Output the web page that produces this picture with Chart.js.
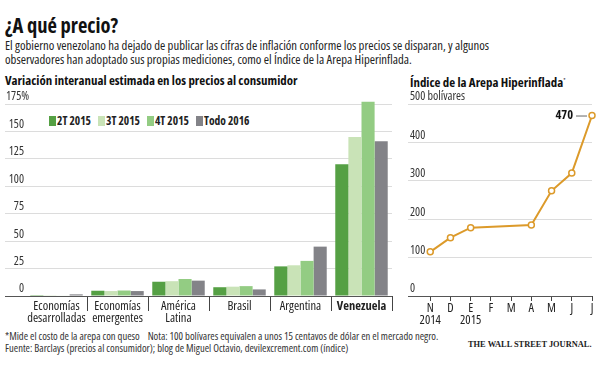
<!DOCTYPE html>
<html>
<head>
<meta charset="utf-8">
<script src="https://cdn.jsdelivr.net/npm/chart.js@4/dist/chart.umd.min.js"></script>
<style>
  body { margin: 0; background: #fff; font-family: "Open Sans", sans-serif; font-stretch: 75%; color: #222; }
  #page { position: relative; width: 600px; height: 370px; overflow: hidden; }
  .abs { position: absolute; white-space: nowrap; }
  #title { left: 5px; top: 13px; font-size: 20.5px; line-height: 24px; font-weight: bold; color: #111; }
  #sub { left: 5px; top: 39px; font-size: 12.7px; line-height: 13.5px; color: #222; }
  .head { top: 72px; font-size: 12.9px; line-height: 16px; font-weight: bold; color: #111; }
  #legend { left: 49px; top: 114px; display: flex; font-size: 11.5px; line-height: 14px; font-weight: bold; color: #222; }
  #legend span.item { display: flex; align-items: center; margin-right: 7px; }
  #legend span.box { width: 7px; height: 10px; margin-right: 1px; }
  #foot { left: 5px; top: 331px; font-size: 10.6px; line-height: 11.5px; color: #333; }
  #wsj { left: 468px; top: 340px; font-family: "Liberation Serif", serif; font-stretch: normal; font-weight: bold; font-size: 8.4px; color: #222; }
  canvas { position: absolute; }
</style>
</head>
<body>
<div id="page">
  <div id="title" class="abs">¿A qué precio?</div>
  <div id="sub" class="abs">El gobierno venezolano ha dejado de publicar las cifras de inflación conforme los precios se disparan, y algunos<br>observadores han adoptado sus propias mediciones, como el Índice de la Arepa Hiperinflada.</div>
  <div class="abs head" style="left:5px">Variación interanual estimada en los precios al consumidor</div>
  <div class="abs head" style="left:410px">Índice de la Arepa Hiperinflada<sup style="font-size:6px;font-weight:normal">*</sup></div>
  <div id="legend" class="abs"></div>
  <div style="position:absolute;left:0;top:88px;width:395px;height:240px"><canvas id="cpiChart"></canvas></div>
  <div style="position:absolute;left:395px;top:88px;width:205px;height:240px"><canvas id="arepaChart"></canvas></div>
  <div id="foot" class="abs">*Mide el costo de la arepa con queso&nbsp;&nbsp;&nbsp; Nota: 100 bolívares equivalen a unos 15 centavos de dólar en el mercado negro.<br>Fuente: Barclays (precios al consumidor); blog de Miguel Octavio, devilexcrement.com (índice)</div>
  <div id="wsj" class="abs">THE WALL STREET JOURNAL.</div>
</div>
<script>
const regions = [['Economías', 'desarrolladas'], ['Economías', 'emergentes'], ['América', 'Latina'], 'Brasil', 'Argentina', 'Venezuela'];
const q2_2015 = [0.1, 4.8, 13, 8, 27, 120];
const q3_2015 = [0.2, 4.5, 13.5, 8.5, 28, 145];
const q4_2015 = [0.5, 5, 15.5, 9, 32, 177];
const all_2016 = [1.5, 4.5, 14, 6, 45, 141];
const seriesNames = ['2T 2015', '3T 2015', '4T 2015', 'Todo 2016'];
const seriesColors = ['#55a044', '#c9e3b7', '#93cc83', '#838388'];
const cpiTicks = [0, 25, 50, 75, 100, 125, 150, 175];

const months = ['N', 'D', 'E', 'F', 'M', 'A', 'M', 'J', 'J'];
const years = ['2014', '', '2015', '', '', '', '', '', ''];
const arepa = [115, 152, 178, null, null, 185, 274, 320, 470];
const arepaTicks = [0, 100, 200, 300, 400, 500];

// Chart.js puts weight before the size, so the stretch can ride along with it
const FONT = '"Open Sans", sans-serif';
const NARROW = 'condensed';
const NARROW_BOLD = 'bold condensed';

// legend
const legend = document.getElementById('legend');
seriesNames.forEach(function (name, i) {
    const item = document.createElement('span');
    item.className = 'item';
    item.innerHTML = '<span class="box" style="background:' + seriesColors[i] + '"></span>' + name;
    legend.appendChild(item);
});

const cpiChart = new Chart(document.getElementById('cpiChart'), {
    type: 'bar',
    data: {
        labels: regions,
        datasets: [q2_2015, q3_2015, q4_2015, all_2016].map(function (d, i) {
            return {
                label: seriesNames[i],
                data: d,
                backgroundColor: seriesColors[i],
                categoryPercentage: 0.86,
                barPercentage: 1.0,
                clip: false
            };
        })
    },
    options: {
        responsive: true,
        maintainAspectRatio: false,
        animation: false,
        layout: { padding: { left: 5, right: 3, top: 16, bottom: 0 } },
        plugins: { legend: { display: false }, tooltip: { enabled: false } },
        scales: {
            x: {
                border: { display: false },
                grid: {
                    offset: true,
                    drawOnChartArea: false,
                    tickLength: 15,
                    color: function (ctx) {
                        return (ctx.index === 0 || ctx.index === regions.length) ? 'rgba(0,0,0,0)' : '#444';
                    }
                },
                ticks: {
                    padding: -11,
                    autoSkip: false,
                    maxRotation: 0,
                    minRotation: 0,
                    color: '#222',
                    font: function (ctx) {
                        return { family: FONT, size: 12.5, weight: ctx.index === regions.length - 1 ? NARROW_BOLD : NARROW, lineHeight: 1.0 };
                    }
                },
                afterFit: function (s) { s.height = 32; }
            },
            y: {
                min: 0,
                max: 175,
                border: { display: false },
                grid: {
                    tickLength: 21,
                    color: function (ctx) { return ctx.tick && ctx.tick.value === 0 ? '#555' : '#dcdcdc'; }
                },
                afterBuildTicks: function (s) { s.ticks = cpiTicks.map(function (v) { return { value: v }; }); },
                ticks: {
                    // mirrored so the labels are not clipped to the narrow axis box
                    mirror: true,
                    crossAlign: 'far',
                    padding: -20,
                    labelOffset: -7,
                    color: '#333',
                    font: { family: FONT, size: 12, weight: NARROW },
                    // the % hangs past the numbers, a figure space keeps the digits lined up
                    callback: function (v) { return v === cpiTicks[cpiTicks.length - 1] ? v + '%' : v + '\u2007'; }
                },
                afterFit: function (s) { s.width = 21; }
            }
        }
    }
});

const lastLabel = {
    id: 'lastLabel',
    afterDatasetsDraw: function (chart) {
        const meta = chart.getDatasetMeta(0);
        const pt = meta.data[meta.data.length - 1];
        const ctx = chart.ctx;
        ctx.save();
        ctx.fillStyle = '#111';
        ctx.font = 'bold condensed 12.5px ' + FONT;
        ctx.textAlign = 'right';
        ctx.textBaseline = 'middle';
        ctx.fillText(String(arepa[arepa.length - 1]), pt.x - 19, pt.y);
        ctx.strokeStyle = '#666';
        ctx.lineWidth = 1;
        ctx.beginPath();
        ctx.moveTo(pt.x - 16, pt.y + 0.5);
        ctx.lineTo(pt.x - 5, pt.y + 0.5);
        ctx.stroke();
        ctx.restore();
    }
};

const arepaChart = new Chart(document.getElementById('arepaChart'), {
    type: 'line',
    data: {
        datasets: [{
            label: 'Índice de la Arepa Hiperinflada',
            data: arepa.map(function (v, i) { return { x: i, y: v }; }),
            borderColor: '#dc9a2a',
            borderWidth: 2,
            pointRadius: 3,
            pointBorderWidth: 1.5,
            pointBackgroundColor: '#fff',
            pointBorderColor: '#dc9a2a',
            spanGaps: true,
            tension: 0,
            clip: false
        }]
    },
    options: {
        responsive: true,
        maintainAspectRatio: false,
        animation: false,
        layout: { padding: { left: 13, right: 8, top: 16, bottom: 0 } },
        plugins: { legend: { display: false }, tooltip: { enabled: false } },
        scales: {
            x: {
                type: 'linear',
                min: -1.1,
                max: 8,
                border: { display: false },
                grid: { drawOnChartArea: false, tickLength: 5, color: '#444' },
                afterBuildTicks: function (s) { s.ticks = months.map(function (m, i) { return { value: i }; }); },
                ticks: {
                    padding: 1,
                    autoSkip: false,
                    maxRotation: 0,
                    minRotation: 0,
                    color: '#222',
                    font: { family: FONT, size: 12.5, weight: NARROW, lineHeight: 1.0 },
                    callback: function (v) { return years[v] ? [months[v], years[v]] : months[v]; }
                },
                afterFit: function (s) { s.height = 32; }
            },
            y: {
                min: 0,
                max: 500,
                border: { display: false },
                grid: {
                    drawTicks: false,
                    color: function (ctx) { return ctx.tick && ctx.tick.value === 0 ? '#555' : '#dcdcdc'; }
                },
                afterBuildTicks: function (s) { s.ticks = arepaTicks.map(function (v) { return { value: v }; }); },
                ticks: {
                    mirror: true,
                    padding: 2,
                    labelOffset: -7,
                    color: '#333',
                    font: { family: FONT, size: 12, weight: NARROW },
                    callback: function (v) { return v === arepaTicks[arepaTicks.length - 1] ? v + ' bolívares' : v; }
                },
                afterFit: function (s) { s.width = 0; }
            }
        }
    },
    plugins: [lastLabel]
});
</script>
</body>
</html>
